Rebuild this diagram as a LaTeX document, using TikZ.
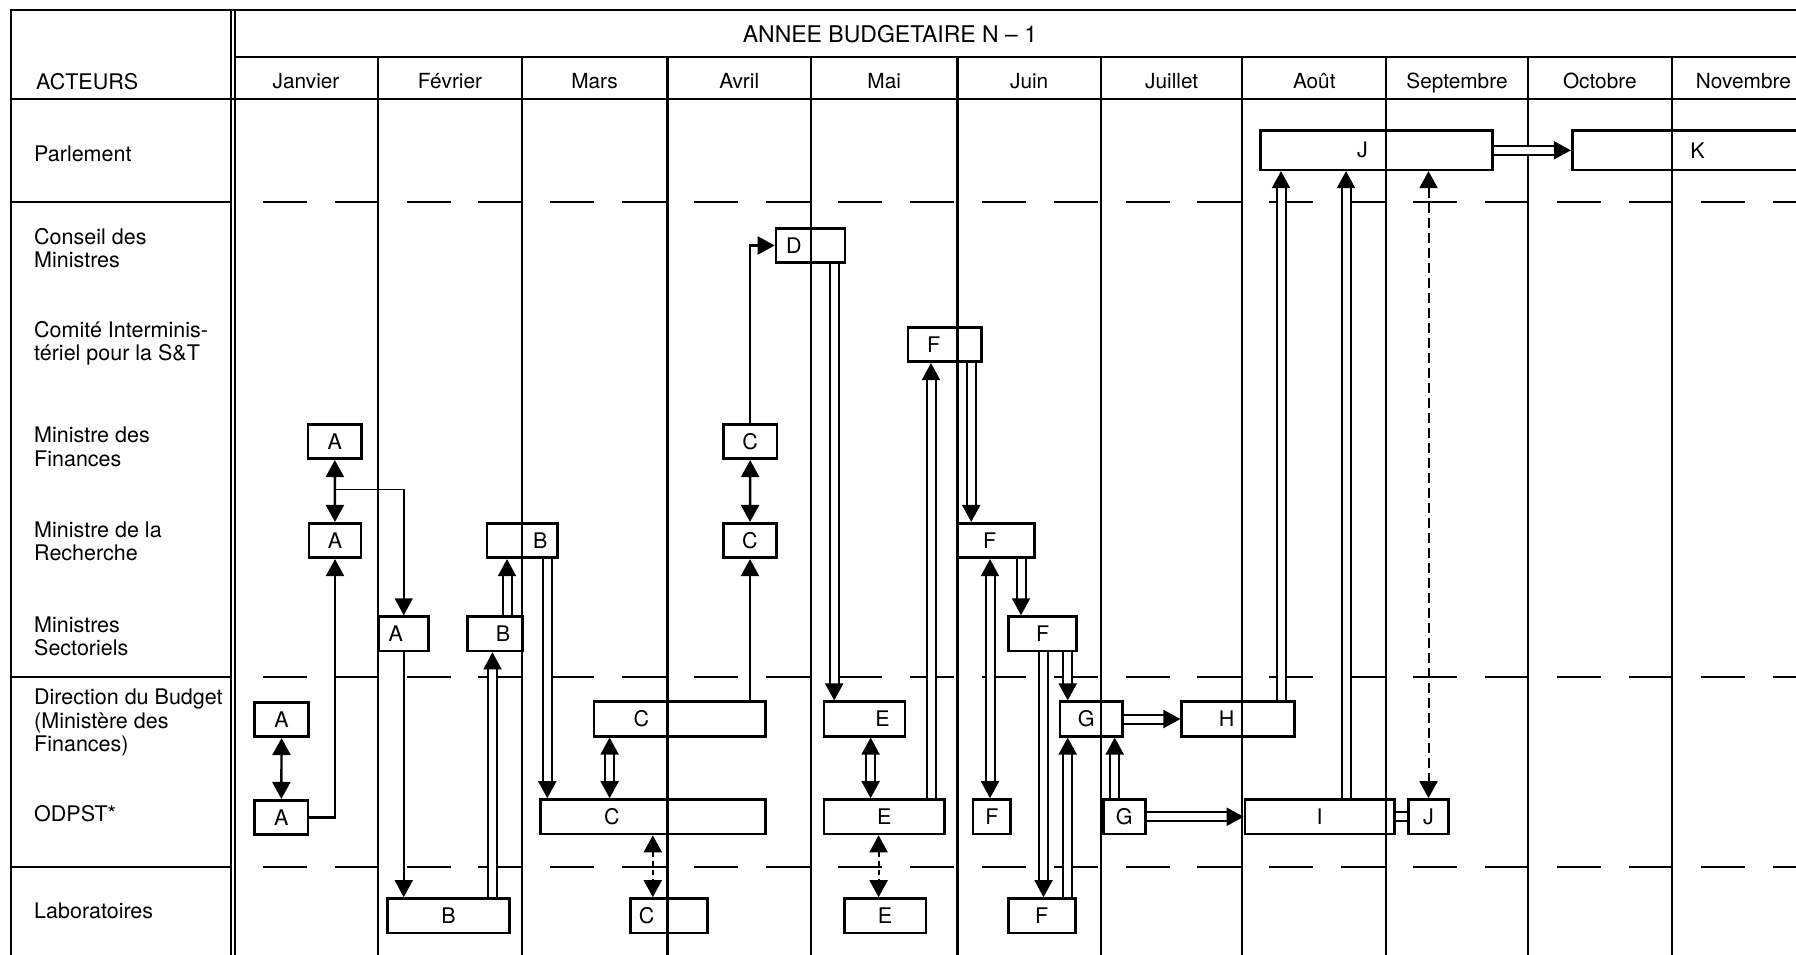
\documentclass[tikz,border=0pt]{standalone}
\usepackage{fontspec}
\setmainfont{TeX Gyre Heros}
\usetikzlibrary{arrows.meta}

\begin{document}
\begin{tikzpicture}[
    x=1pt, y=-1pt,
    >={Triangle[length=17pt,width=18pt]},
    grille/.style={line width=2.2pt},
    tiret/.style={line width=1.9pt, dash pattern=on 44pt off 27.9pt, dash phase=44pt},
    boite/.style={draw, line width=2.6pt, inner sep=0pt, minimum height=34.5pt, font=\fontsize{21.5}{24}\selectfont},
    lettre/.style={inner sep=0pt, font=\fontsize{21.5}{24}\selectfont},
    acteur/.style={anchor=base west, align=left, inner sep=0pt, font=\fontsize{21.5}{23.5}\selectfont},
    mois/.style={anchor=base, inner sep=0pt, font=\fontsize{20.8}{24}\selectfont},
    fl/.style={line width=2.2pt, ->},
    flbi/.style={line width=2.4pt, <->},
    fin/.style={line width=1.6pt, ->},
    dbl/.style={double, double distance=7pt, line width=2pt},
    pointille/.style={line width=2pt, dash pattern=on 5pt off 4pt, <->},
    tirete/.style={line width=2pt, dash pattern=on 10pt off 5pt, <->}
]
    \path[use as bounding box, clip] (0,0) rectangle (1796,955);

    % cadre du tableau
    \draw[grille] (10.7,955) -- (10.7,10) -- (1796,10);
    \draw[grille] (231,10) -- (231,955);
    \draw[grille] (234.8,10) -- (234.8,955);
    \draw[grille] (234.8,57.3) -- (1796,57.3);
    \draw[grille] (10.7,99) -- (1796,99);
    \foreach \y in {202.3,676.7,866.7} {
        \draw[grille] (10.7,\y) -- (231,\y);
        \draw[tiret] (234.8,\y) -- (1796,\y);
    }
    \foreach \x in {378.1,521.6,667.4,810.9,957.4,1101,1242.3,1386.2,1527.8,1671.7}
        \draw[grille] (\x,57.3) -- (\x,955);

    % en-tetes
    \node[mois, font=\fontsize{23}{26}\selectfont] (titre) at (890,42.7) {ANNEE BUDGETAIRE N – 1};
    \node[acteur] (acteurs) at (36,89.3) {ACTEURS};
    \foreach \m/\x in {Janvier/306, Février/449.9, Mars/594.5, Avril/739.2, Mai/884.2,
        Juin/1029.2, Juillet/1171.7, Août/1314.3, Septembre/1457, Octobre/1599.8, Novembre/1743.4}
        \node[mois] (m-\m) at (\x,88.5) {\m};

    % acteurs (base = derniere ligne)
    \node[acteur] (parl) at (34,161.7) {Parlement};
    \node[acteur] (cons) at (34,267.7) {Conseil des\\Ministres};
    \node[acteur] (comi) at (34,360.5) {Comité Interminis-\\tériel pour la S\&T};
    \node[acteur] (fina) at (34,466) {Ministre des\\Finances};
    \node[acteur] (rech) at (34,560.5) {Ministre de la\\Recherche};
    \node[acteur] (sect) at (34,655.5) {Ministres\\Sectoriels};
    \node[acteur] (budg) at (34,751.5) {Direction du Budget\\(Ministère des\\Finances)};
    \node[acteur] (odps) at (34,821.7) {ODPST*};
    \node[acteur] (labo) at (34,918.3) {Laboratoires};

    % etapes
    \node[boite, minimum width=53.6pt] (Afin) at (334.8,441.5) {A};
    \node[boite, minimum width=52pt] (Arech) at (335,540.5) {A};
    \node[boite, minimum width=49.7pt, label={[lettre,xshift=-8pt]center:A}] (Asect) at (403.75,633.8) {};
    \node[boite, minimum width=54.3pt] (Adir) at (281.6,719.5) {A};
    \node[boite, minimum width=53.5pt] (Aodpst) at (281.3,817.5) {A};

    \node[boite, minimum width=70.8pt, label={[lettre,xshift=18pt]center:B}] (Brech) at (522.2,540.5) {};
    \node[boite, minimum width=54.7pt, label={[lettre,xshift=8pt]center:B}] (Bsect) at (495,633.8) {};
    \node[boite, minimum width=122.5pt] (Blab) at (448.5,915.75) {B};

    \node[boite, minimum width=53.2pt] (Cfin) at (750.2,441.5) {C};
    \node[boite, minimum width=52.8pt] (Crech) at (750,540.5) {C};
    \node[boite, minimum width=171.3pt, label={[lettre,xshift=-38.4pt]center:C}] (Cdir) at (679.7,719) {};
    \node[boite, minimum width=224.7pt, label={[lettre,xshift=-41pt]center:C}] (Codpst) at (653,816.75) {};
    \node[boite, minimum width=76.6pt, label={[lettre,xshift=-22.2pt]center:C}] (Clab) at (668.9,915.75) {};

    \node[boite, minimum width=69pt, label={[lettre,xshift=-16.5pt]center:D}] (D) at (810.5,245.5) {};

    \node[boite, minimum width=81pt, label={[lettre,xshift=18pt]center:E}] (Edir) at (864.5,719) {};
    \node[boite, minimum width=120.5pt] (Eodpst) at (884.2,816.75) {E};
    \node[boite, minimum width=81.8pt] (Elab) at (885.1,915.75) {E};

    \node[boite, minimum width=73.6pt, label={[lettre,xshift=-11pt]center:F}] (Fcom) at (944.8,344.5) {};
    \node[boite, minimum width=77.4pt, label={[lettre,xshift=-6pt]center:F}] (Frech) at (995.7,540.5) {};
    \node[boite, minimum width=67.8pt] (Fsect) at (1042.6,633.8) {F};
    \node[boite, minimum width=37.5pt] (Fodpst) at (991.9,816.75) {F};
    \node[boite, minimum width=67pt] (Flab) at (1041.8,915.75) {F};

    \node[boite, minimum width=62.4pt, label={[lettre,xshift=-5pt]center:G}] (Gdir) at (1091.2,719) {};
    \node[boite, minimum width=42pt] (Godpst) at (1124.3,816.75) {G};

    \node[boite, minimum width=113pt, label={[lettre,xshift=-11.6pt]center:H}] (H) at (1238.2,719) {};
    \node[boite, minimum width=149.2pt] (I) at (1319.6,816.75) {I};

    \node[boite, minimum width=232.3pt, minimum height=39pt, label={[lettre,xshift=-14pt]center:J}] (Jparl) at (1376.5,150.3) {};
    \node[boite, minimum width=40.2pt] (Jodpst) at (1428.5,816.75) {J};
    \node[boite, minimum width=268pt, minimum height=39pt, label={[lettre,xshift=-8.8pt]center:K}] (K) at (1706.2,150.3) {};

    % liaisons A et B
    \coordinate (jA) at (335,489.3);
    \draw[flbi] (Afin.south) -- (Arech.north);
    \draw[fin] (jA) -| (Asect.north);
    \draw[fl] (Aodpst.east) -| (Arech.south);
    \draw[flbi] (Adir.south) -- (Aodpst.north);
    \draw[fin] (Asect.south) -- (Asect.south |- Blab.north);
    \draw[dbl, ->] (492.5,0 |- Blab.north) -- (492.5,0 |- Bsect.south);
    \draw[dbl, ->] (507,0 |- Bsect.north) -- (507,0 |- Brech.south);
    \draw[dbl, ->] (547.3,0 |- Brech.south) -- (547.3,0 |- Codpst.north);

    % liaisons C et D
    \draw[dbl, <->] (609.6,0 |- Cdir.south) -- (609.6,0 |- Codpst.north);
    \draw[pointille] (652.8,0 |- Codpst.south) -- (652.8,0 |- Clab.north);
    \draw[fl] (Crech.south |- Cdir.north) -- (Crech.south);
    \draw[flbi] (Cfin.south) -- (Crech.north);
    \draw[fl] (Cfin.north) |- (D.west);

    % liaisons E et F
    \draw[dbl, ->] (834.2,0 |- D.south) -- (834.2,0 |- Edir.north);
    \draw[dbl, <->] (870.6,0 |- Edir.south) -- (870.6,0 |- Eodpst.north);
    \draw[dbl, ->] (931,0 |- Eodpst.north) -- (931,0 |- Fcom.south);
    \draw[pointille] (878.6,0 |- Eodpst.south) -- (878.6,0 |- Elab.north);
    \draw[dbl, ->] (971.2,0 |- Fcom.south) -- (971.2,0 |- Frech.north);
    \draw[dbl, <->] (990,0 |- Frech.south) -- (990,0 |- Fodpst.north);
    \draw[dbl, ->] (1021,0 |- Frech.south) -- (1021,0 |- Fsect.north);
    \draw[dbl, ->] (1043.5,0 |- Fsect.south) -- (1043.5,0 |- Flab.north);
    \draw[dbl, ->] (1067.7,0 |- Fsect.south) -- (1067.7,0 |- Gdir.north);
    \draw[dbl, ->] (1067.7,0 |- Flab.north) -- (1067.7,0 |- Gdir.south);

    % liaisons G a K
    \draw[dbl, ->] (1114.7,0 |- Godpst.north) -- (1114.7,0 |- Gdir.south);
    \draw[dbl, ->] (Gdir.east) -- (H.west);
    \draw[dbl, ->] (Godpst.east) -- (I.west);
    \draw[dbl, ->] (1281,0 |- H.north) -- (1281,0 |- Jparl.south);
    \draw[dbl, ->] (1346,0 |- I.north) -- (1346,0 |- Jparl.south);
    \draw[dbl] (I.east) -- (Jodpst.west);
    \draw[tirete] (Jodpst.north |- Jparl.south) -- (Jodpst.north);
    \draw[dbl, ->] (Jparl.east) -- (K.west);
\end{tikzpicture}
\end{document}
